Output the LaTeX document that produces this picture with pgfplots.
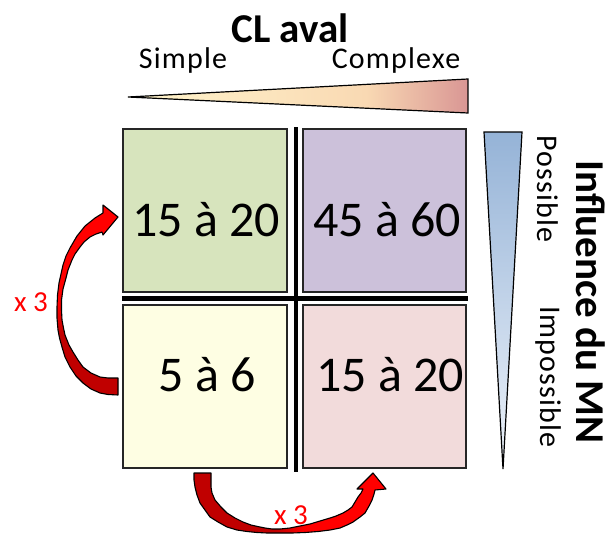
\documentclass[border=0pt]{standalone}
\usepackage{fontspec}
\setmainfont{Carlito}
\usepackage{pgfplots}
\pgfplotsset{compat=1.18}
\definecolor{cGreen}{HTML}{D7E4BD}
\definecolor{cPurple}{HTML}{CCC1DA}
\definecolor{cYellow}{HTML}{FEFEE3}
\definecolor{cPink}{HTML}{F2DBDB}
\definecolor{wL}{HTML}{FFF5CC}
\definecolor{wM}{HTML}{F9D9B3}
\definecolor{wR}{HTML}{D99694}
\definecolor{vT}{HTML}{95B3D7}
\definecolor{vB}{HTML}{EEF3FA}
\definecolor{dRed}{HTML}{C00000}
\definecolor{bRed}{HTML}{FF0000}
\pgfdeclarehorizontalshading{wedgeH}{100bp}{color(0bp)=(wL); color(25bp)=(wL); color(60bp)=(wM); color(75bp)=(wR); color(100bp)=(wR)}
\pgfdeclareverticalshading{wedgeV}{100bp}{color(0bp)=(vB); color(25bp)=(vB); color(75bp)=(vT); color(100bp)=(vT)}
\pgfdeclareverticalshading{arrowL}{100bp}{color(0bp)=(dRed); color(41bp)=(dRed); color(49bp)=(bRed); color(100bp)=(bRed)}
\pgfdeclarehorizontalshading{arrowB}{100bp}{color(0bp)=(dRed); color(46bp)=(dRed); color(54bp)=(bRed); color(100bp)=(bRed)}
\newcommand{\lab}{\fontsize{30}{30}\selectfont\addfontfeature{LetterSpace=4}}
\begin{document}
\begin{tikzpicture}
\begin{axis}[width=607pt,height=533pt,scale only axis,
  xmin=0,xmax=607,ymin=0,ymax=533,y dir=reverse,hide axis,clip=false]
% boxes
\addplot[fill=cGreen, draw=black!85, line width=1.2pt] coordinates {(123,129) (287,129) (287,292) (123,292)} --cycle;
\addplot[fill=cPurple, draw=black!85, line width=1.2pt] coordinates {(303,129) (466,129) (466,292) (303,292)} --cycle;
\addplot[fill=cYellow, draw=black!85, line width=1.2pt] coordinates {(123,305) (287,305) (287,468) (123,468)} --cycle;
\addplot[fill=cPink, draw=black!85, line width=1.2pt] coordinates {(303,305) (466,305) (466,468) (303,468)} --cycle;
% separators
\addplot[black, line width=4pt] coordinates {(295.5,127) (295.5,472)};
\addplot[black, line width=4.5pt] coordinates {(122,298.5) (468,298.5)};
% wedges
\addplot[shading=wedgeH, draw=black, line width=1.2pt] coordinates {(128,97) (468,79) (468,113)} --cycle;
\addplot[shading=wedgeV, draw=black, line width=1.2pt] coordinates {(484,132) (522,132) (503,469)} --cycle;
% left arrow
\addplot[shading=arrowL, draw=black, line width=1.1pt, line join=round] coordinates {
(118,395) (108,394.5) (100,393) (91,389) (83,383) (76,376) (70,367) (65,357) (62,347) (59.5,338) (58,330) (57,318) (57,307) (57.5,295) (59,283) (61,274) (63,265) (66,256) (70,248) (77,236) (85,226) (90,222) (95,218) (103,213)
(103,205) (118,217) (103,235) (102,232)
(96,234) (90,237) (84,242) (80,247) (75,254) (72,260) (68,270) (66,278) (63,289) (61.5,300) (61.5,310) (62,320) (63.5,328) (65,335) (69,345) (73,352) (78,360) (83,367) (91,373) (100,377) (108,378) (118,378)} --cycle;
% bottom arrow
\addplot[shading=arrowB, draw=black, line width=1.1pt, line join=round] coordinates {
(194,473) (194,480) (195,487) (197,495) (200,503) (205,510) (210,517) (218,522) (227,527) (237,530) (247,531.5) (257,532.5) (267,533) (280,533) (292,533) (305,532.5) (318,531.5) (330,530) (340,528) (347,525) (353,522) (360,517) (365,513) (369,506) (372,500) (374,494) (375,490)
(386,489) (373,473) (357,489) (363,489)
(361,493) (358,497) (355,502) (352,507) (348,510) (343,513) (336,516) (330,518) (320,521) (310,524) (300,526) (290,528) (280,529) (272,529) (265,528) (260,527) (251,525) (243,522) (235,518) (227,513) (221,507) (215,500) (212,493) (211,487) (211,480) (211,473)} --cycle;
% texts
\node[anchor=base, inner sep=0pt, font=\fontsize{41}{41}\selectfont\bfseries] at (axis cs:290,42) {CL aval};
\node[anchor=base, inner sep=0pt, font=\lab] at (axis cs:183,68) {Simple};
\node[anchor=base, inner sep=0pt, font=\lab] at (axis cs:396,68) {Complexe};
\node[anchor=base, inner sep=0pt, font=\fontsize{50}{50}\selectfont] at (axis cs:206,236) {15 à 20};
\node[anchor=base, inner sep=0pt, font=\fontsize{50}{50}\selectfont] at (axis cs:387,236) {45 à 60};
\node[anchor=base, inner sep=0pt, font=\fontsize{50}{50}\selectfont] at (axis cs:207,391) {5 à 6};
\node[anchor=base, inner sep=0pt, font=\fontsize{50}{50}\selectfont] at (axis cs:390,391) {15 à 20};
\node[anchor=base, inner sep=0pt, rotate=-90, font=\lab] at (axis cs:537,189) {Possible};
\node[anchor=base, inner sep=0pt, rotate=-90, font=\lab] at (axis cs:540,377) {Impossible};
\node[anchor=base, inner sep=0pt, rotate=-90, font=\fontsize{41}{41}\selectfont\bfseries] at (axis cs:576,302) {Influence du MN};
\node[anchor=base, inner sep=0pt, text=bRed, font=\fontsize{29}{29}\selectfont] at (axis cs:31,311) {x 3};
\node[anchor=base, inner sep=0pt, text=bRed, font=\fontsize{29}{29}\selectfont] at (axis cs:291,524) {x 3};
\end{axis}
\pgfresetboundingbox
\path (current axis.south west) rectangle (current axis.north east);
\end{tikzpicture}
\end{document}
